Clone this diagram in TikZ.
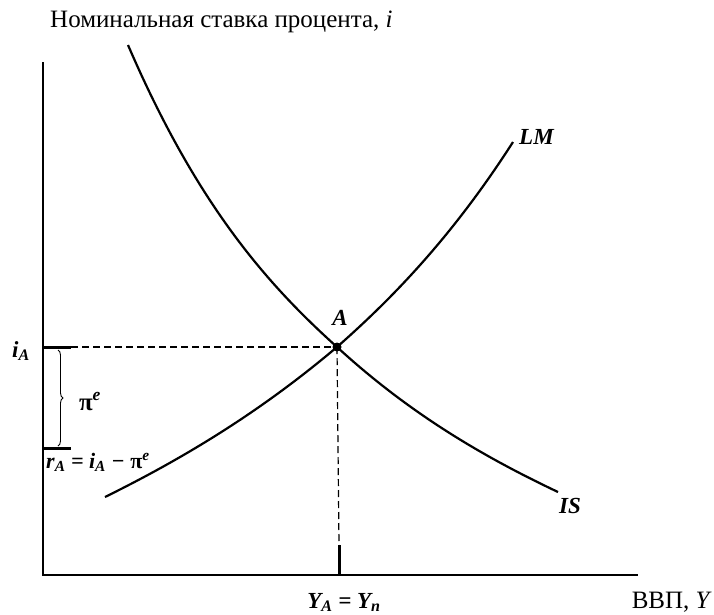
\documentclass[tikz,border=0pt]{standalone}
\usepackage{fontspec}
\setmainfont{Liberation Serif}
\usetikzlibrary{decorations.pathreplacing,calc}

\begin{document}
\begin{tikzpicture}[
    x=1pt, y=-1pt,
    axis/.style={line width=2pt},
    curve/.style={line width=2.2pt},
    tick/.style={line width=3pt},
    guide/.style={line width=1.2pt, dash pattern=on 7pt off 4pt},
    lbl/.style={inner sep=0pt, font=\fontsize{23}{26}\selectfont\bfseries\itshape},
    axlbl/.style={inner sep=0pt, font=\fontsize{25}{28}\selectfont}
  ]
  \useasboundingbox (0,0) rectangle (714,614);

  % ===== axes =====
  \coordinate (origin) at (43,575);
  \coordinate (ytop) at (43,62);
  \coordinate (xend) at (638,575);
  \draw[axis] (ytop) -- (origin) -- (xend);

  % ===== equilibrium point =====
  \coordinate (A) at (337,347);
  \coordinate (iA) at (43,347);
  \coordinate (rA) at (43,448);
  \coordinate (YA) at (339,575);

  % ===== IS and LM curves =====
  \draw[curve] (128,45) .. controls (197,205) and (267,284) .. (A)
               .. controls (410,414) and (484,457) .. (558,492);
  \draw[curve] (105,497) .. controls (182,459) and (259,413) .. (A)
               .. controls (395,296) and (454,234) .. (513,142);

  % ===== guides and ticks =====
  \draw[guide] ($(iA)+(28,0)$) -- (A);
  \draw[guide] (A) -- ($(YA)+(0,-30)$);
  \draw[tick] (iA) -- ++(28,0);
  \draw[tick] (rA) -- ++(28,0);
  \draw[tick] (YA) -- ++(0,-30);
  \fill (A) circle (4.5pt);

  % ===== brace for expected inflation =====
  \draw[line width=0.9pt, decorate, decoration={brace, amplitude=5pt}]
    (58,350) -- (58,446);

  % ===== labels =====
  \node[axlbl, anchor=base west] (ylabel) at (50,27)
    {Номинальная ставка процента, \textit{i}};
  \node[axlbl, anchor=base east] (xlabel) at (712,608)
    {ВВП, \textit{Y}};
  \node[lbl] (lblA) at (340,318) {A};
  \node[lbl, anchor=west] (lblLM) at (519,137) {LM};
  \node[lbl, anchor=west] (lblIS) at (559,506) {IS};
  \node[lbl, anchor=base] (lbliA) at (21,357) {i\textsubscript{A}};
  \node[lbl, anchor=base, font=\fontsize{25}{28}\selectfont\bfseries] (lblpi) at (90,410)
    {π\textsuperscript{\itshape e}};
  \node[lbl, anchor=base west, font=\fontsize{22}{25}\selectfont\bfseries\itshape] (lblrA) at (46,468)
    {r\textsubscript{A} = i\textsubscript{A} − {\upshape π}\textsuperscript{e}};
  \node[lbl, anchor=base] (lblYA) at (344,608)
    {Y\textsubscript{A} = Y\textsubscript{n}};
\end{tikzpicture}
\end{document}
